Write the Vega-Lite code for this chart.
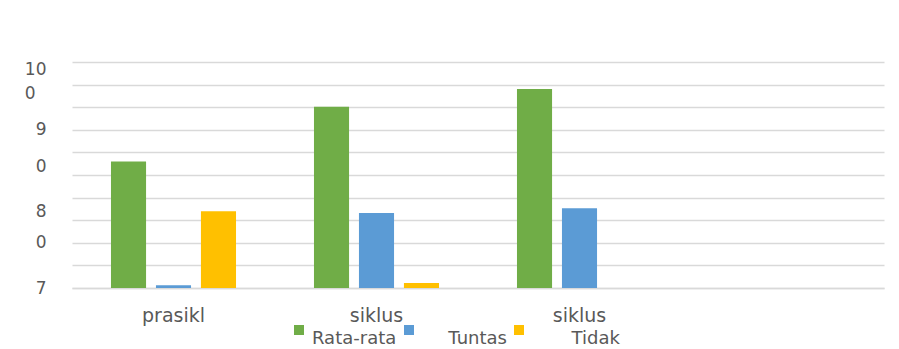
{
  "$schema": "https://vega.github.io/schema/vega-lite/v6.json",
  "width": 812,
  "height": 226,
  "autosize": {"type": "none"},
  "padding": {"left": 72, "top": 62, "right": 15, "bottom": 61},
  "background": "white",
  "config": {
    "view": {"stroke": null},
    "font": "DejaVu Sans"
  },
  "data": {
    "values": [
      {"kategori": "prasiklus", "seri": "Rata-rata", "nilai": 56},
      {"kategori": "prasiklus", "seri": "Tuntas", "nilai": 1.2},
      {"kategori": "prasiklus", "seri": "Tidak", "nilai": 34},
      {"kategori": "siklus I", "seri": "Rata-rata", "nilai": 80.2},
      {"kategori": "siklus I", "seri": "Tuntas", "nilai": 33.2},
      {"kategori": "siklus I", "seri": "Tidak", "nilai": 2.2},
      {"kategori": "siklus II", "seri": "Rata-rata", "nilai": 88},
      {"kategori": "siklus II", "seri": "Tuntas", "nilai": 35.3},
      {"kategori": "siklus II", "seri": "Tidak", "nilai": 0}
    ]
  },
  "mark": {"type": "bar"},
  "encoding": {
    "x": {
      "field": "kategori",
      "type": "nominal",
      "scale": {"domain": ["prasiklus", "siklus I", "siklus II", " "], "paddingInner": 0.384, "paddingOuter": 0.192},
      "axis": {
        "title": null,
        "domain": true,
        "domainColor": "#d9d9d9",
        "domainWidth": 1.5,
        "ticks": false,
        "labelAngle": 0,
        "labelFont": "DejaVu Sans",
        "labelFontSize": 19,
        "labelColor": "#595959",
        "labelPadding": 18,
        "labelExpr": "datum.value=='prasiklus'?'prasikl':datum.value==' '?'':'siklus'"
      }
    },
    "xOffset": {
      "field": "seri",
      "type": "nominal",
      "sort": ["Rata-rata", "Tuntas", "Tidak"],
      "scale": {"paddingInner": 0.22, "paddingOuter": 0}
    },
    "y": {
      "field": "nilai",
      "type": "quantitative",
      "scale": {"domain": [0, 100], "nice": false},
      "axis": {
        "title": null,
        "values": [0, 10, 20, 30, 40, 50, 60, 70, 80, 90, 100],
        "domain": false,
        "ticks": false,
        "grid": true,
        "gridColor": "#d9d9d9",
        "gridWidth": 1.5,
        "labelFont": "DejaVu Sans",
        "labelFontSize": 17,
        "labelColor": "#595959",
        "labelExpr": "datum.value==100?'10':datum.value==90?'0':datum.value==70?'9':datum.value==50?'0':datum.value==30?'8':datum.value==20?'0':datum.value==0?'7':''",
        "labelOffset": {"condition": [{"test": "datum.value==100", "value": 7}, {"test": "datum.value==90", "value": 9}, {"test": "datum.value==50||datum.value==30", "value": -9}], "value": 0},
        "labelPadding": {"condition": {"test": "datum.value==90", "value": 37}, "value": 26}
      }
    },
    "color": {
      "field": "seri",
      "type": "nominal",
      "sort": ["Rata-rata", "Tuntas", "Tidak"],
      "scale": {"domain": ["Rata-rata", "Tuntas", "Tidak"], "range": ["#70AD47", "#5B9BD5", "#FFC000"]},
      "legend": {
        "title": null,
        "orient": "none",
        "direction": "horizontal",
        "legendX": 218,
        "legendY": 259,
        "symbolType": "square",
        "symbolSize": 100,
        "symbolStrokeWidth": 0,
        "labelFont": "DejaVu Sans",
        "labelFontSize": 18,
        "labelBaseline": "top",
        "labelColor": "#595959",
        "labelOffset": 4,
        "columnPadding": 3,
        "labelExpr": "datum.value=='Tuntas'?'\u2800\u2800Tuntas':datum.value=='Tidak'?'\u2800\u2800\u2800Tidak':datum.value"
      }
    }
  }
}
